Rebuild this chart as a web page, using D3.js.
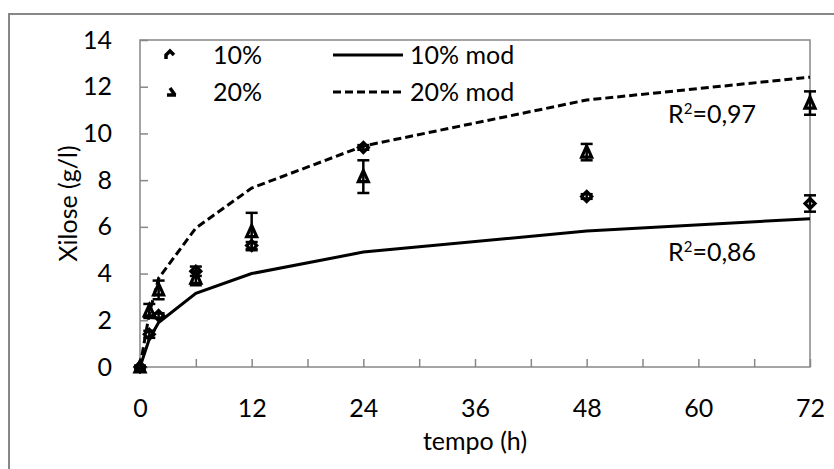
<!DOCTYPE html>
<html>
<head>
<meta charset="utf-8">
<script src="https://cdn.jsdelivr.net/npm/d3@7"></script>
<style>
  body { margin: 0; background: #fff; }
  svg { display: block; font-family: Lato, "Open Sans", sans-serif; }
</style>
</head>
<body>
<div id="chart"></div>
<script>
// measured points (hours)
var times = [0, 1, 2, 6, 12, 24, 48, 72];
var xil10 = [0, 1.4, 2.2, 4.1, 5.2, 9.4, 7.3, 7.0];
var err10 = [0.05, 0.15, 0.1, 0.2, 0.15, 0.1, 0.1, 0.35];
var xil20 = [0, 2.4, 3.3, 3.8, 5.8, 8.15, 9.2, 11.3];
var err20 = [0.05, 0.3, 0.4, 0.3, 0.8, 0.7, 0.35, 0.5];

// model curves
var mod10 = [0, 1.2, 1.9, 3.15, 4.0, 4.92, 5.82, 6.35];
var mod20 = [0, 2.3, 3.8, 5.95, 7.66, 9.46, 11.43, 12.41];

var yTicks = [0, 2, 4, 6, 8, 10, 12, 14];
var xTicks = [0, 6, 12, 18, 24, 30, 36, 42, 48, 54, 60, 66, 72];
var xLabels = [0, 12, 24, 36, 48, 60, 72];

var W = 834, H = 469;
var env = {
    margin: {top: 40, right: 24, bottom: 102, left: 140},
    axisColor: '#878787'
};

var svg = d3.select('#chart').append('svg')
    .attr('width', W)
    .attr('height', H);

// outer chart border (runs past the picture on the right and bottom)
svg.append('rect')
    .attr('x', 9).attr('y', 14)
    .attr('width', W + 10).attr('height', H + 10)
    .style('fill', 'none')
    .style('stroke', env.axisColor)
    .style('stroke-width', 2);

var xScale = d3.scaleLinear().domain([0, 72]).range([env.margin.left, W - env.margin.right]);
var yScale = d3.scaleLinear().domain([0, 14]).range([H - env.margin.bottom, env.margin.top]);

// plot area frame
svg.append('rect')
    .attr('x', xScale(0)).attr('y', yScale(14))
    .attr('width', xScale(72) - xScale(0))
    .attr('height', yScale(0) - yScale(14))
    .style('fill', 'none')
    .style('stroke', env.axisColor)
    .style('stroke-width', 1.5);

var yAxis = svg.append('g')
    .attr('transform', 'translate(' + xScale(0) + ',0)')
    .call(d3.axisLeft(yScale).tickValues(yTicks).tickSize(-8).tickSizeOuter(0).tickPadding(28));

var xAxis = svg.append('g')
    .attr('transform', 'translate(0,' + yScale(0) + ')')
    .call(d3.axisBottom(xScale).tickValues(xTicks).tickSize(-8).tickSizeOuter(0).tickPadding(32)
        .tickFormat(function(d) { return xLabels.indexOf(d) >= 0 ? d : ''; }));

[yAxis, xAxis].forEach(function(a) {
    a.selectAll('path, line').style('stroke', env.axisColor).style('stroke-width', 1.5);
    a.selectAll('text').style('font-family', 'Lato, sans-serif').style('font-size', '25px').style('fill', '#000');
});
yAxis.select('.domain').remove();
xAxis.select('.domain').remove();

// axis titles
svg.append('text')
    .attr('transform', 'translate(68,' + ((yScale(0) + yScale(14)) / 2) + ') rotate(-90)')
    .attr('text-anchor', 'middle')
    .attr('dy', '0.35em')
    .style('font-size', '25px')
    .text('Xilose (g/l)');

svg.append('text')
    .attr('x', (xScale(0) + xScale(72)) / 2)
    .attr('y', 441)
    .attr('text-anchor', 'middle')
    .attr('dy', '0.35em')
    .style('font-size', '25px')
    .text('tempo (h)');

// model lines
var line = d3.line()
    .x(function(d) { return xScale(d[0]); })
    .y(function(d) { return yScale(d[1]); });

svg.append('path')
    .datum(d3.zip(times, mod10))
    .attr('d', line)
    .style('fill', 'none').style('stroke', '#000').style('stroke-width', 3);

svg.append('path')
    .datum(d3.zip(times, mod20))
    .attr('d', line)
    .style('fill', 'none').style('stroke', '#000').style('stroke-width', 3)
    .style('stroke-dasharray', '8,4');

// error bars + markers
var diamond = 'M0,-5L5,0L0,5L-5,0Z';
var triangle = 'M0,-6L5,5L-5,5Z';

function drawSeries(vals, errs, shape) {
    var g = svg.append('g');
    var data = d3.zip(times, vals, errs);
    var bars = g.selectAll('g.eb').data(data).enter().append('g')
        .style('stroke', '#000').style('stroke-width', 2.5);
    bars.append('line')
        .attr('x1', function(d) { return xScale(d[0]); })
        .attr('x2', function(d) { return xScale(d[0]); })
        .attr('y1', function(d) { return yScale(d[1] - d[2]); })
        .attr('y2', function(d) { return yScale(d[1] + d[2]); });
    [-1, 1].forEach(function(s) {
        bars.append('line')
            .attr('x1', function(d) { return xScale(d[0]) - 6; })
            .attr('x2', function(d) { return xScale(d[0]) + 6; })
            .attr('y1', function(d) { return yScale(d[1] + s * d[2]); })
            .attr('y2', function(d) { return yScale(d[1] + s * d[2]); });
    });
    g.selectAll('path.mk').data(data).enter().append('path')
        .attr('d', shape)
        .attr('transform', function(d) { return 'translate(' + xScale(d[0]) + ',' + yScale(d[1]) + ')'; })
        .style('fill', 'none').style('stroke', '#000').style('stroke-width', 3.2);
}
drawSeries(xil10, err10, diamond);
drawSeries(xil20, err20, triangle);

// legend
var legend = svg.append('g').style('font-size', '25px');
legend.append('path').attr('d', 'M-4,4L-4,0L0,-4L4,0')
    .attr('transform', 'translate(170,55)')
    .style('fill', 'none').style('stroke', '#000').style('stroke-width', 3.5);
legend.append('path').attr('d', 'M-2,-4L3,3M-5,3L4,3')
    .attr('transform', 'translate(172,92)')
    .style('fill', 'none').style('stroke', '#000').style('stroke-width', 3.5);
legend.append('text').attr('x', 213).attr('y', 55).attr('dy', '0.35em').text('10%');
legend.append('text').attr('x', 213).attr('y', 92).attr('dy', '0.35em').text('20%');
legend.append('line').attr('x1', 333).attr('x2', 403).attr('y1', 55).attr('y2', 55)
    .style('stroke', '#000').style('stroke-width', 3);
legend.append('line').attr('x1', 333).attr('x2', 403).attr('y1', 92).attr('y2', 92)
    .style('stroke', '#000').style('stroke-width', 3).style('stroke-dasharray', '8,4');
legend.append('text').attr('x', 410).attr('y', 55).attr('dy', '0.35em').text('10% mod');
legend.append('text').attr('x', 410).attr('y', 92).attr('dy', '0.35em').text('20% mod');

// R² labels
function r2(x, y, val) {
    var t = svg.append('text').attr('x', x).attr('y', y).attr('dy', '0.35em').style('font-size', '25px');
    t.append('tspan').text('R');
    t.append('tspan').attr('dy', '-9').style('font-size', '15px').text('2');
    t.append('tspan').attr('dy', '9').text('=' + val);
}
r2(668, 114, '0,97');
r2(668, 252, '0,86');
</script>
</body>
</html>
